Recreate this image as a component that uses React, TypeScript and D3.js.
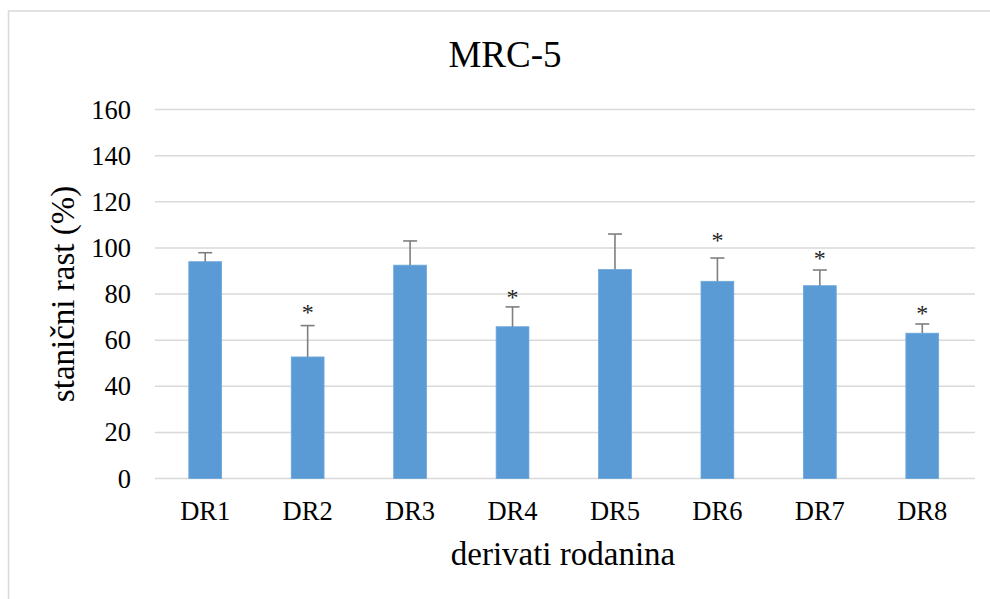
import React from "react";
import * as d3 from "d3";

const categories = ["DR1", "DR2", "DR3", "DR4", "DR5", "DR6", "DR7", "DR8"];
const growthValues = [94.0, 52.7, 92.5, 65.8, 90.6, 85.5, 83.6, 63.0];
const errorTops = [97.9, 66.3, 103.0, 74.4, 106.0, 95.6, 90.4, 67.0];
const significant = [false, true, false, true, false, true, true, true];
const starLevels = [0, 74.4, 0, 80.9, 0, 105.6, 97.8, 73.9];
const yTicks = [0, 20, 40, 60, 80, 100, 120, 140, 160];

const W = 990;
const H = 599;
const FONT = "'Liberation Serif', 'Times New Roman', serif";

export default function App() {
  const x = d3
    .scaleBand<string>()
    .domain(categories)
    .range([154, 973.5])
    .paddingInner(0.68)
    .paddingOuter(0.34);
  const y = d3.scaleLinear().domain([0, 160]).range([478.5, 109.5]);
  const bw = x.bandwidth();
  const capW = 14;

  return (
    <svg
      width={W}
      height={H}
      viewBox={`0 0 ${W} ${H}`}
      style={{ position: "fixed", left: 0, top: 0, background: "#fff" }}
    >
      <rect x={0} y={0} width={W} height={H} fill="#fff" />
      <rect
        x={8.5}
        y={11}
        width={1100}
        height={800}
        fill="none"
        stroke="#d9d9d9"
        strokeWidth={1.5}
      />
      <text
        x={505}
        y={67}
        textAnchor="middle"
        fontFamily={FONT}
        fontSize={37}
        fill="#000"
      >
        MRC-5
      </text>
      {yTicks.map((t) => (
        <g key={t}>
          <line
            x1={155}
            x2={975}
            y1={y(t)}
            y2={y(t)}
            stroke="#d9d9d9"
            strokeWidth={1.5}
          />
          <text
            x={131}
            y={y(t)}
            dy="0.34em"
            textAnchor="end"
            fontFamily={FONT}
            fontSize={26.5}
            fill="#000"
          >
            {t}
          </text>
        </g>
      ))}
      {categories.map((c, i) => {
        const cx = (x(c) as number) + bw / 2;
        return (
          <g key={c}>
            <rect
              x={x(c)}
              y={y(growthValues[i])}
              width={bw}
              height={y(0) - y(growthValues[i])}
              fill="#5b9bd5"
              stroke="#6aa6dc"
              strokeWidth={0.8}
            />
            <line
              x1={cx}
              x2={cx}
              y1={y(growthValues[i])}
              y2={y(errorTops[i])}
              stroke="#7f7f7f"
              strokeWidth={1.6}
            />
            <line
              x1={cx - capW / 2}
              x2={cx + capW / 2}
              y1={y(errorTops[i])}
              y2={y(errorTops[i])}
              stroke="#7f7f7f"
              strokeWidth={1.6}
            />
            {significant[i] && (
              <text
                x={cx}
                y={y(starLevels[i]) + 13}
                textAnchor="middle"
                fontFamily={FONT}
                fontSize={24}
                fill="#222"
              >
                *
              </text>
            )}
            <text
              x={cx}
              y={520}
              textAnchor="middle"
              fontFamily={FONT}
              fontSize={26.5}
              fill="#000"
            >
              {c}
            </text>
          </g>
        );
      })}
      <text
        x={563}
        y={565}
        textAnchor="middle"
        fontFamily={FONT}
        fontSize={33}
        fill="#000"
      >
        derivati rodanina
      </text>
      <text
        transform={`translate(74, 294) rotate(-90)`}
        textAnchor="middle"
        fontFamily={FONT}
        fontSize={33}
        fill="#000"
      >
        stanični rast (%)
      </text>
    </svg>
  );
}
